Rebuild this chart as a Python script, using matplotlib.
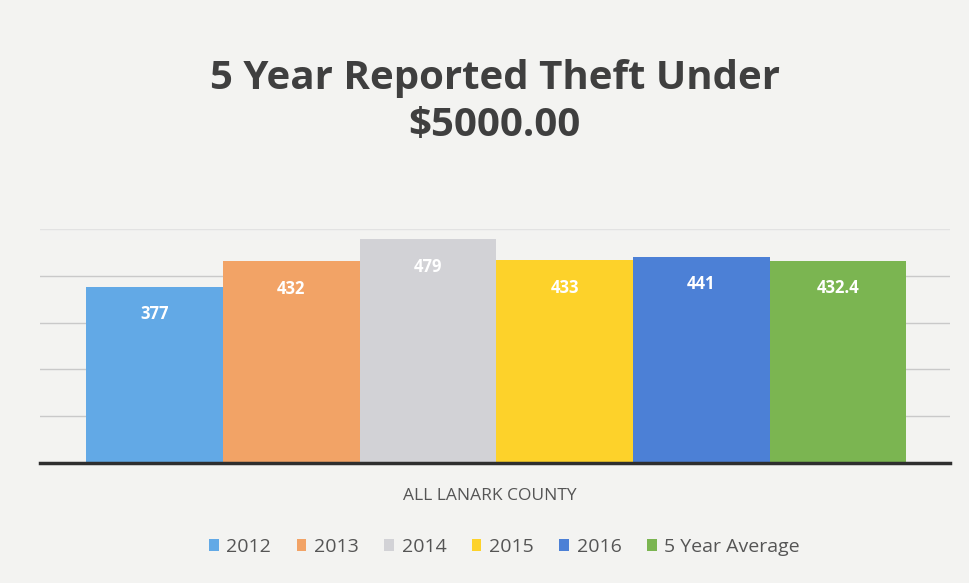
import matplotlib.pyplot as plt
from matplotlib.patches import Patch

# data
series = ["2012", "2013", "2014", "2015", "2016", "5 Year Average"]
values = [377, 432, 479, 433, 441, 432.4]
labels = ["377", "432", "479", "433", "441", "432.4"]
colors = ["#62a9e6", "#f2a366", "#d2d2d6", "#fdd22a", "#4c80d6", "#7bb551"]
category = "ALL LANARK COUNTY"

plt.rcParams["font.family"] = ["Open Sans", "DejaVu Sans"]

fig = plt.figure(figsize=(9.7, 5.83), dpi=100, facecolor="#f3f3f1")
ax = fig.add_axes((40 / 970, 120 / 583, 910 / 970, 234 / 583))
ax.set_facecolor("none")

x = range(len(values))
bars = ax.bar(x, values, width=1.0, color=colors, zorder=2)
ax.set_xlim(-0.84, 5.82)
ax.set_ylim(0, 500)
ax.set_yticks([100, 200, 300, 400])
ax.yaxis.grid(True, color="#c9c9c9", linewidth=1.0, zorder=0)
ax.axhline(500, color="#e2e2e2", linewidth=1.0, zorder=0)
ax.tick_params(left=False, bottom=False, labelleft=False, labelbottom=False)
for s in ["top", "right", "left"]:
    ax.spines[s].set_visible(False)
ax.spines["bottom"].set_color("#2e2e2e")
ax.spines["bottom"].set_linewidth(2.5)
ax.spines["bottom"].set_zorder(3)

for b, lab in zip(bars, labels):
    ax.annotate(lab, (b.get_x() + b.get_width() / 2, b.get_height()),
                xytext=(0, -20), textcoords="offset points", ha="center", va="center",
                color="white", fontsize=12, fontweight="bold", zorder=4)

fig.text(0.51, 1 - 78 / 583, "5 Year Reported Theft Under", ha="center", va="center",
         fontsize=29, fontweight="bold", color="#3f3f3f")
fig.text(0.51, 1 - 126 / 583, "$5000.00", ha="center", va="center",
         fontsize=29, fontweight="bold", color="#3f3f3f")
fig.text(0.505, 1 - 496 / 583, category, ha="center", va="center",
         fontsize=12.5, color="#555555")

handles = [Patch(facecolor=c, edgecolor="none") for c in colors]
fig.legend(handles, series, loc="center", bbox_to_anchor=(0.52, 1 - 547 / 583),
           ncol=6, frameon=False, fontsize=14, labelcolor="#555555",
           handlelength=0.5, handleheight=0.6, handletextpad=0.4, columnspacing=1.3)

fig.savefig("out.png", dpi=100, facecolor=fig.get_facecolor())
